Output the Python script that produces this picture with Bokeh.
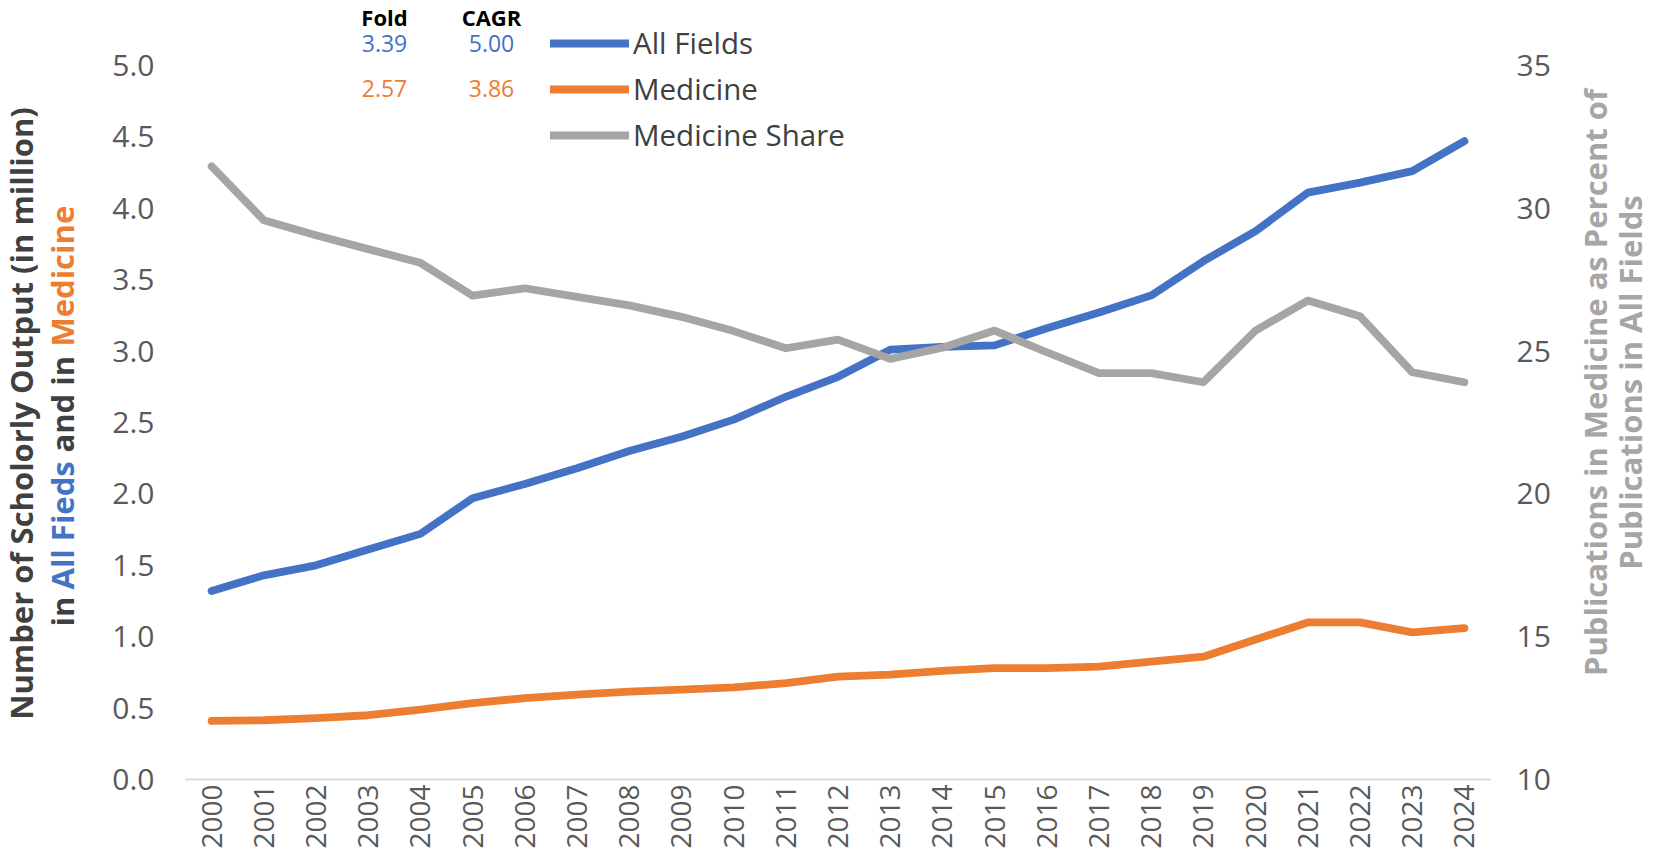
import math
from bokeh.plotting import figure
from bokeh.layouts import row
from bokeh.models import (Range1d, LinearAxis, FixedTicker, Legend, LegendItem,
                          ColumnDataSource, NumeralTickFormatter, BasicTickFormatter)
from bokeh.core.properties import value
from bokeh.embed import file_html
from bokeh.resources import INLINE

# ---------------- data ----------------
years = list(range(2000, 2025))
all_fields = [1.32, 1.43, 1.50, 1.61, 1.72, 1.97, 2.07, 2.18, 2.30, 2.40, 2.52, 2.68, 2.82,
              3.01, 3.03, 3.04, 3.16, 3.27, 3.39, 3.63, 3.84, 4.11, 4.18, 4.26, 4.47]
medicine = [0.41, 0.415, 0.43, 0.45, 0.49, 0.535, 0.57, 0.595, 0.615, 0.63, 0.645, 0.675, 0.72,
            0.735, 0.76, 0.78, 0.78, 0.79, 0.825, 0.86, 0.98, 1.10, 1.10, 1.03, 1.06]
medicine_share = [31.47, 29.58, 29.06, 28.57, 28.09, 26.94, 27.2, 26.9, 26.6, 26.2, 25.7, 25.1, 25.4,
                  24.73, 25.12, 25.72, 24.96, 24.23, 24.23, 23.91, 25.72, 26.77, 26.22, 24.26, 23.91]
series_names = ["All Fields", "Medicine", "Medicine Share"]
left_ticks = [0.0, 0.5, 1.0, 1.5, 2.0, 2.5, 3.0, 3.5, 4.0, 4.5, 5.0]
right_ticks = [10, 15, 20, 25, 30, 35]
stat_headers = ["Fold", "CAGR"]
fold_values = ["3.39", "2.57"]
cagr_values = ["5.00", "3.86"]
left_title_1 = "Number of Scholorly Output (in million)"
left_title_2 = ["in", "All Fieds", "and in", "Medicine"]
right_title = ["Publications in Medicine as Percent of", "Publications in All Fields"]

# ---------------- style ----------------
BLUE = "#4472C4"
ORANGE = "#ED7D31"
GRAY = "#A5A5A5"
TXT = "#404040"
TICK = "#595959"
FONT = "Open Sans"

W, H = 1649, 852
LW = 100                 # left title panel width
RX = 1565                # right title panel start
RW = W - RX
MW = RX - LW             # main figure width
FL, FR = 185, 1490       # frame left/right in page px
FB = 779                 # frame bottom (value 0) in page px
PX_PER_UNIT = (FB - 65) / 5.0
YTOP = FB / PX_PER_UNIT
RTOP = 10 + FB / ((FB - 65) / 25.0)

def px_x(fx):
    return 1999.5 + (fx - FL) / ((FR - FL) / 25.0)

def px_y(fy):
    return (FB - fy) / PX_PER_UNIT

def side_panel(width):
    # frame spans page y 0..FB, data y = H - page_y
    f = figure(width=width, height=H, x_range=Range1d(0, width), y_range=Range1d(H - FB, H),
               output_backend="svg", toolbar_location=None,
               x_axis_location=None, y_axis_location=None,
               min_border_left=0, min_border_right=0, min_border_top=0,
               min_border_bottom=H - FB)
    f.outline_line_color = None
    f.grid.visible = False
    f.background_fill_color = "white"
    f.border_fill_color = "white"
    return f

p = figure(width=MW, height=H, x_range=Range1d(1999.5, 2024.5), y_range=Range1d(0, YTOP),
           output_backend="svg", toolbar_location=None,
           min_border_left=FL - LW, min_border_right=RX - FR, min_border_top=0,
           min_border_bottom=H - FB)
p.extra_y_ranges = {"share": Range1d(10, RTOP)}
p.outline_line_color = None
p.grid.visible = False
p.background_fill_color = "white"
p.border_fill_color = "white"

# x axis
xa = p.xaxis[0]
xa.ticker = FixedTicker(ticks=years)
xa.formatter = BasicTickFormatter(use_scientific=False)
xa.major_label_orientation = math.pi / 2
xa.axis_line_color = "#D9D9D9"
xa.axis_line_width = 2
xa.major_tick_line_color = None
xa.minor_tick_line_color = None
xa.major_tick_out = 0
xa.major_tick_in = 0
xa.minor_tick_out = 0
xa.major_label_standoff = 5
xa.major_label_text_font = FONT
xa.major_label_text_font_size = "28px"
xa.major_label_text_color = TICK

# left axis
ya = p.yaxis[0]
ya.ticker = FixedTicker(ticks=left_ticks)
ya.formatter = NumeralTickFormatter(format="0.0")
ya.axis_line_color = None
ya.major_tick_line_color = None
ya.minor_tick_line_color = None
ya.major_tick_out = 0
ya.major_tick_in = 0
ya.minor_tick_out = 0
ya.major_label_standoff = 31
ya.major_label_text_font = FONT
ya.major_label_text_font_size = "30px"
ya.major_label_text_color = TICK

# right axis
ra = LinearAxis(y_range_name="share", ticker=FixedTicker(ticks=right_ticks))
ra.axis_line_color = None
ra.major_tick_line_color = None
ra.minor_tick_line_color = None
ra.major_tick_out = 0
ra.major_tick_in = 0
ra.minor_tick_out = 0
ra.major_label_standoff = 26
ra.major_label_text_font = FONT
ra.major_label_text_font_size = "30px"
ra.major_label_text_color = TICK
p.add_layout(ra, "right")

# lines
LWID = 7.8
r_all = p.line(years, all_fields, line_color=BLUE, line_width=LWID, line_cap="round", line_join="round")
r_med = p.line(years, medicine, line_color=ORANGE, line_width=LWID, line_cap="round", line_join="round")
r_shr = p.line(years, medicine_share, y_range_name="share", line_color=GRAY, line_width=LWID,
               line_cap="round", line_join="round")

legend = Legend(items=[LegendItem(label=series_names[0], renderers=[r_all]),
                       LegendItem(label=series_names[1], renderers=[r_med]),
                       LegendItem(label=series_names[2], renderers=[r_shr])],
                location=(550 - FL, 624), orientation="vertical",
                glyph_width=79, glyph_height=40, label_height=40, spacing=5,
                padding=0, margin=0, label_standoff=4,
                border_line_color=None, background_fill_alpha=0,
                label_text_font=FONT, label_text_font_size="29.5px", label_text_color=TXT)
p.add_layout(legend)

# Fold / CAGR table
col_px = [384, 491]
hdr_src = ColumnDataSource(dict(x=[px_x(c) for c in col_px], y=[px_y(16)] * 2, t=stat_headers))
p.text(x="x", y="y", text="t", source=hdr_src, text_align="center", text_baseline="middle",
       text_font=value(FONT), text_font_size="22px", text_font_style="bold", text_color="black")
vals = [fold_values[0], cagr_values[0], fold_values[1], cagr_values[1]]
val_src = ColumnDataSource(dict(x=[px_x(col_px[0]), px_x(col_px[1])] * 2,
                                y=[px_y(43)] * 2 + [px_y(88)] * 2,
                                t=vals, c=[BLUE, BLUE, ORANGE, ORANGE]))
p.text(x="x", y="y", text="t", source=val_src, text_align="center", text_baseline="middle",
       text_font=value(FONT), text_font_size="23px", text_color="c")

# left title panel
TF = "31px"
lp = side_panel(LW)
lp.text(x=[20], y=[H - 413], text=[left_title_1], angle=math.pi / 2,
        text_align="center", text_baseline="middle", text_font=value(FONT),
        text_font_size=TF, text_font_style="bold", text_color=TXT)
seg_start = [626, 589, 452, 346]          # page y where each segment starts (bottom end)
seg_color = [TXT, BLUE, TXT, ORANGE]
lp.text(x=[61] * 4, y=[H - s for s in seg_start], text=left_title_2, angle=math.pi / 2,
        text_align="left", text_baseline="middle", text_font=value(FONT),
        text_font_size=TF, text_font_style="bold", text_color=seg_color)

# right title panel
rp = side_panel(RW)
rp.text(x=[1594 - RX, 1629 - RX], y=[H - 382] * 2, text=right_title, angle=math.pi / 2,
        text_align="center", text_baseline="middle", text_font=value(FONT),
        text_font_size="31px", text_font_style="bold", text_color="#A6A6A6")

layout = row(lp, p, rp)
open("out.html", "w").write(file_html(layout, INLINE))
